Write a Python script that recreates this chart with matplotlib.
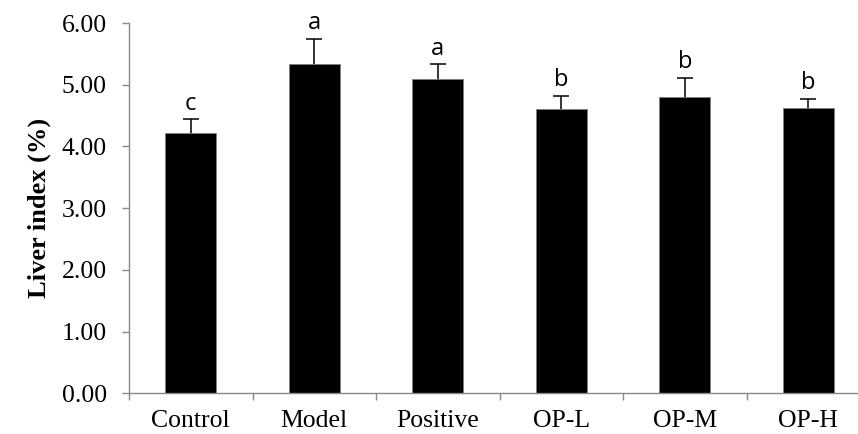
import matplotlib
matplotlib.use('Agg')
import matplotlib.pyplot as plt
import numpy as np

# Data
groups = ['Control', 'Model', 'Positive', 'OP-L', 'OP-M', 'OP-H']
liver_index = [4.22, 5.33, 5.09, 4.60, 4.80, 4.63]
sd = [0.22, 0.41, 0.24, 0.22, 0.31, 0.14]
letters = ['c', 'a', 'a', 'b', 'b', 'b']
y_ticks = [0, 1, 2, 3, 4, 5, 6]

plt.rcParams.update({
    'font.family': ['Liberation Serif', 'DejaVu Serif'],
    'font.size': 18.5,
})

fig = plt.figure(figsize=(8.58, 4.34), dpi=100)
# axis extends past the right edge, like the cropped original
ax = fig.add_axes([129 / 858, 40.7 / 434, 741 / 858, 370.3 / 434])

x = np.arange(len(groups))
ax.bar(x, liver_index, width=0.41, color='black', edgecolor='#7f7f7f',
       linewidth=0.6, zorder=2)
# error bars sit behind the bars so only the upper half shows
ax.errorbar(x, liver_index, yerr=sd, fmt='none',
            ecolor='black', elinewidth=1.1, capsize=6, capthick=1.1, zorder=1)

for xi, v, e, lab in zip(x, liver_index, sd, letters):
    ax.annotate(lab, (xi, v + e), xytext=(0, 7), textcoords='offset points',
                ha='center', va='baseline', fontsize=17,
                family=['Open Sans', 'DejaVu Sans'])

ax.set_xlim(-0.5, len(groups) - 0.5)
ax.set_ylim(0, 6)
ax.set_yticks(y_ticks)
ax.set_yticklabels([f'{t:.2f}' for t in y_ticks])
ax.set_xticks(np.arange(len(groups) + 1) - 0.5, minor=False)
ax.set_xticklabels([])
ax.set_xticks(x, minor=True)
ax.set_xticklabels(groups, minor=True)
ax.tick_params(axis='x', which='major', direction='out', length=5,
               width=1, color='#898989')
ax.tick_params(axis='x', which='minor', length=0, pad=12)
ax.tick_params(axis='y', direction='out', length=5, width=1,
               color='#898989', pad=11)

for side in ['top', 'right']:
    ax.spines[side].set_visible(False)
for side in ['left', 'bottom']:
    ax.spines[side].set_color('#898989')
    ax.spines[side].set_linewidth(1)

ax.set_ylabel('Liver index (%)', fontweight='bold', fontsize=19, labelpad=8)

fig.savefig('out.png', dpi=100)
